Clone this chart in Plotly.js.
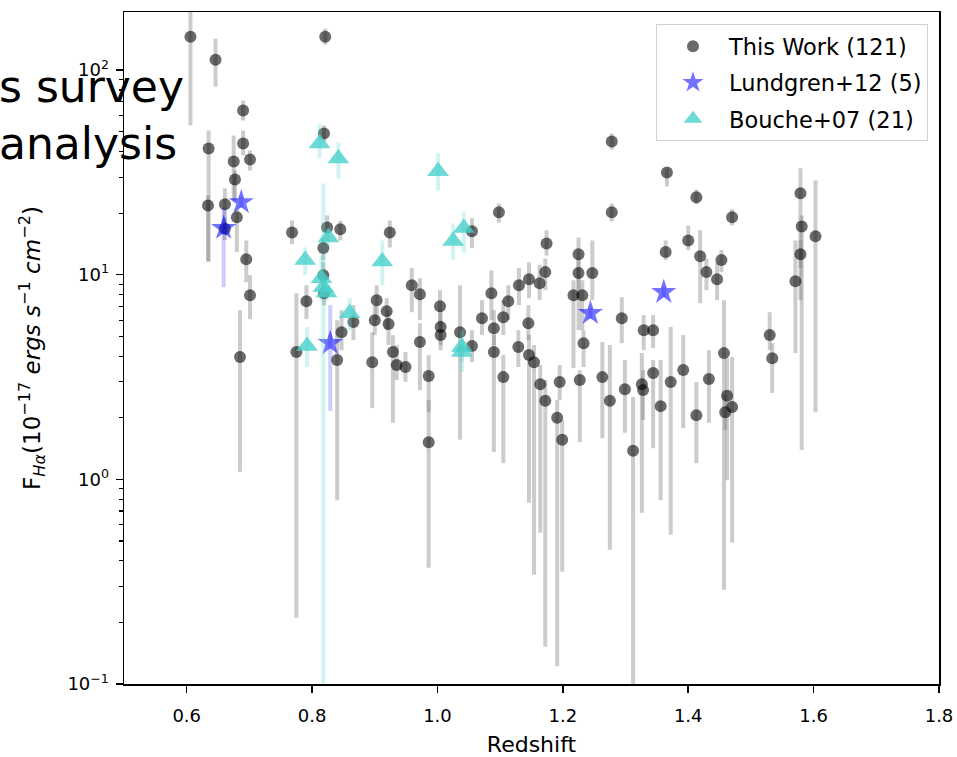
<!DOCTYPE html>
<html>
<head>
<meta charset="utf-8">
<script src="https://cdn.plot.ly/plotly-3.0.1.min.js"></script>
<style>html,body{margin:0;padding:0;background:#fff;} #plot{width:957px;height:757px;}</style>
</head>
<body>
<div id="plot"></div>
<script>
// ---- This Work (121): redshift, flux, error-bar upper end, error-bar lower end ----
const workZ = [0.606,0.646,0.690,0.635,0.690,0.675,0.701,0.677,0.634,0.661,0.680,0.695,0.701,0.685,0.768,0.791,0.775,0.821,0.819,0.824,
  0.845,0.818,0.818,0.819,0.840,0.847,0.866,0.896,0.903,0.900,0.919,0.922,0.924,0.929,0.935,0.949,0.959,0.972,0.972,0.986,
  0.986,1.004,1.005,1.005,1.036,1.055,1.055,1.071,1.086,1.090,1.105,1.098,1.113,1.090,1.105,1.130,1.146,1.163,1.145,1.129,
  1.146,1.154,1.164,1.172,1.174,1.172,1.191,1.195,1.199,1.217,1.231,1.225,1.225,1.247,1.233,1.227,1.263,1.275,1.278,1.278,
  1.294,1.299,1.312,1.326,1.328,1.329,1.344,1.344,1.356,1.366,1.364,1.372,1.392,1.400,1.413,1.413,1.419,1.429,1.433,1.446,
  1.453,1.457,1.462,1.470,1.459,1.470,1.530,1.534,1.571,1.579,1.581,1.579,1.603,0.661];
const workF = [145.7,112.5,63.4,41.4,43.8,35.8,36.6,29.2,21.8,22.1,19.1,11.9,7.94,3.96,16.1,7.42,4.19,145.7,49.0,17.0,
  16.7,13.5,9.94,8.12,3.83,5.24,5.87,3.74,7.51,6.00,6.64,5.74,16.1,4.19,3.62,3.54,8.89,8.03,4.69,3.20,
  1.52,7.02,5.55,5.07,5.24,4.48,16.3,6.13,8.12,5.48,6.20,20.2,7.42,4.19,3.16,8.89,9.51,9.09,5.80,4.43,
  4.05,3.74,2.92,2.42,14.2,10.3,2.00,2.99,1.56,7.94,7.94,12.6,10.2,10.2,4.63,3.06,3.16,2.42,44.8,20.2,
  6.13,2.76,1.38,2.92,2.73,5.36,5.36,3.31,2.28,31.6,12.9,2.99,3.42,14.7,23.9,2.06,12.3,10.3,3.09,9.51,
  11.8,4.14,2.56,2.26,2.13,19.1,5.07,3.91,9.30,25.0,17.2,12.6,15.4,16.8];
const workHi = [300,142.5,71.0,50.7,50.7,47.9,40.5,32.3,24.4,26.4,20.9,14.7,9.94,6.71,18.4,8.89,8.12,159.4,53.6,19.5,
  18.4,15.1,11.5,9.40,6.00,6.71,7.10,5.24,8.89,7.10,7.68,6.71,18.4,5.07,4.53,4.19,10.8,9.61,5.80,4.05,
  2.44,8.40,6.71,6.00,8.89,5.36,18.9,7.51,10.5,6.71,7.51,22.3,8.89,5.07,4.05,10.8,11.5,11.2,7.10,5.36,
  5.07,4.53,3.62,3.06,16.5,12.0,2.44,3.62,1.95,9.40,9.40,15.2,12.0,14.7,5.36,3.42,4.69,4.53,49.0,22.3,
  7.77,3.83,2.53,4.14,3.42,6.35,6.35,3.83,3.83,33.1,14.7,5.55,5.07,17.4,26.1,2.99,16.5,12.0,4.28,11.5,
  13.2,7.51,3.91,3.96,2.58,20.9,6.56,4.63,14.7,33.1,19.5,14.7,28.9,19.0];
const workLo = [53.6,83.1,56.7,11.6,38.3,23.1,32.3,23.1,11.6,16.5,12.9,9.19,6.07,1.09,14.1,6.07,0.211,133.2,44.8,14.7,
  14.7,11.8,8.40,7.10,0.79,4.28,4.79,2.23,6.00,5.07,5.36,4.53,13.6,1.89,3.06,3.00,6.56,6.00,2.73,2.13,
  0.370,5.67,4.53,4.28,1.56,3.74,13.5,5.07,6.00,4.53,5.07,18.0,6.00,1.36,1.20,7.10,7.68,7.51,4.79,3.54,
  0.768,0.342,0.548,0.152,12.4,8.40,0.122,2.44,0.354,3.50,5.36,5.36,8.40,7.51,3.54,1.52,1.59,0.453,40.9,18.2,
  4.63,1.69,0.09,0.686,1.95,4.28,4.38,1.42,0.79,27.0,11.8,0.536,1.78,13.2,22.1,1.20,7.26,8.40,1.89,7.51,
  10.3,0.289,0.99,0.490,1.74,17.4,4.28,2.64,4.14,7.51,1.39,10.8,2.13,14.8];

// ---- Lundgren+12 (5) ----
const lundZ  = [0.687, 0.659, 0.829, 1.244, 1.361];
const lundF  = [22.6, 16.9, 4.63, 6.49, 8.22];
const lundHi = [24.0, 21.3, 7.10, 6.9, 8.7];
const lundLo = [21.3, 8.69, 2.16, 6.1, 7.8];

// ---- Bouche+07 (21) ----
const boucheZ  = [0.812,0.842,1.001,0.789,0.826,0.815,0.818,0.912,0.860,0.792,1.025,1.042,1.039,1.039,0.823];
const boucheF  = [43.8,37.0,32.0,11.8,15.2,9.61,8.69,11.6,6.49,4.48,14.6,16.9,4.43,4.19,8.2];
const boucheHi = [54.8,44.3,39.2,13.6,16.9,12.4,27.9,14.7,7.68,5.55,17.8,20.2,5.36,4.79,9.0];
const boucheLo = [37.0,29.6,25.8,9.94,13.8,7.51,0.05,8.89,5.36,3.54,11.8,12.8,3.35,3.74,7.5];

const legendNames = ['This Work (121)', 'Lundgren+12 (5)', 'Bouche+07 (21)'];
const xTickVals = [0.6, 0.8, 1.0, 1.2, 1.4, 1.6, 1.8];
const xTickText = ['0.6', '0.8', '1.0', '1.2', '1.4', '1.6', '1.8'];
const yTickVals = [0.1, 1, 10, 100];
const yTickText = ['10<sup>−1</sup>', '10<sup>0</sup>', '10<sup>1</sup>', '10<sup>2</sup>'];

function ups(v, hi) { return v.map((d, i) => hi[i] - d); }
function downs(v, lo) { return v.map((d, i) => d - lo[i]); }

const minorY = [];
[0.1, 1, 10, 100].forEach(b => { for (let k = 2; k <= 9; k++) minorY.push(b * k); });

const traces = [
  {
    x: workZ, y: workF, type: 'scatter', mode: 'markers', name: legendNames[0], legendgroup: 'a',
    marker: { color: 'rgba(0,0,0,0.58)', size: 12, line: { width: 0 } },
    error_y: { type: 'data', symmetric: false, array: ups(workF, workHi), arrayminus: downs(workF, workLo),
      color: 'rgba(128,128,128,0.4)', thickness: 4, width: 0 }
  },
  {
    x: lundZ, y: lundF, type: 'scatter', mode: 'markers', name: legendNames[1], legendgroup: 'b',
    marker: { color: 'rgba(0,0,255,0.55)', size: 19, symbol: 'star', line: { width: 0 } },
    error_y: { type: 'data', symmetric: false, array: ups(lundF, lundHi), arrayminus: downs(lundF, lundLo),
      color: 'rgba(0,0,255,0.2)', thickness: 4, width: 0 }
  },
  {
    x: boucheZ, y: boucheF, type: 'scatter', mode: 'markers', name: legendNames[2], legendgroup: 'c',
    marker: { color: 'rgba(72,209,204,0.8)', size: 19, symbol: 'triangle-up', line: { width: 0 } },
    error_y: { type: 'data', symmetric: false, array: ups(boucheF, boucheHi), arrayminus: downs(boucheF, boucheLo),
      color: 'rgba(72,209,204,0.25)', thickness: 4, width: 0 }
  }
];

const layout = {
  width: 957, height: 757,
  margin: { l: 124, r: 18, t: 12, b: 73 },
  paper_bgcolor: '#fff', plot_bgcolor: '#fff',
  font: { family: 'DejaVu Sans', color: '#000', size: 18 },
  showlegend: true,
  legend: {
    x: 0.9865, xanchor: 'right', y: 0.982, yanchor: 'top',
    bgcolor: 'rgba(255,255,255,0.9)', bordercolor: '#d0d0d0', borderwidth: 1,
    font: { family: 'DejaVu Sans', size: 22.5, color: '#000' },
    traceorder: 'grouped', tracegroupgap: 4, itemwidth: 62
  },
  xaxis: {
    range: [0.5, 1.8], tickvals: xTickVals, ticktext: xTickText,
    showgrid: false, zeroline: false, showline: true, linecolor: '#000', linewidth: 1.5, mirror: true,
    ticks: 'outside', ticklen: 7, tickwidth: 1.5, tickcolor: '#000', ticklabelstandoff: 8,
    tickfont: { family: 'DejaVu Sans', size: 18 },
    title: { text: 'Redshift', font: { family: 'DejaVu Sans', size: 22 }, standoff: 12 }
  },
  yaxis: {
    type: 'log', range: [-1, 2.284], tickvals: yTickVals, ticktext: yTickText,
    showgrid: false, zeroline: false, showline: true, linecolor: '#000', linewidth: 1.5, mirror: true,
    ticks: 'outside', ticklen: 7, tickwidth: 1.5, tickcolor: '#000', ticklabelstandoff: 3,
    tickfont: { family: 'DejaVu Sans', size: 18 },
    minor: { tickvals: minorY, ticks: 'outside', ticklen: 4, tickwidth: 1.2, tickcolor: '#000', showgrid: false },
    title: { text: 'F<sub><i>Hα</i></sub>(10<sup>−17</sup> <i>ergs s</i><sup>−1</sup> <i>cm</i><sup>−2</sup>)',
      font: { family: 'DejaVu Sans', size: 23 }, standoff: 20 }
  },
  annotations: [
    { text: 's survey<br>analysis', xref: 'paper', yref: 'paper', x: -0.156, y: 0.93,
      xanchor: 'left', yanchor: 'top', align: 'left', showarrow: false,
      font: { family: 'DejaVu Sans', size: 44, color: '#000' } }
  ]
};

Plotly.newPlot('plot', traces, layout, { displayModeBar: false, staticPlot: true });
</script>
</body>
</html>
